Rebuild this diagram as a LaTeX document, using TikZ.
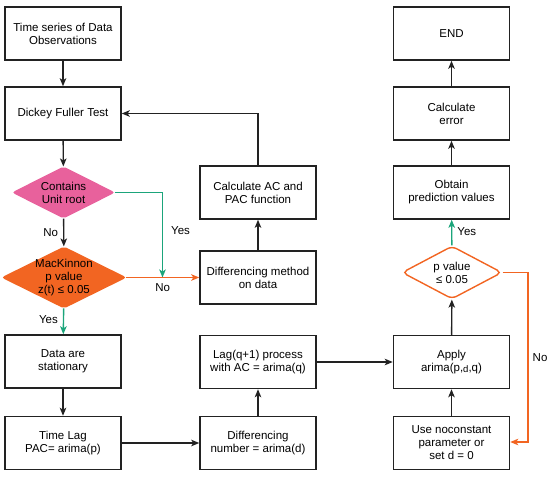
\documentclass[tikz,border=0pt]{standalone}
\usepackage{fontspec}
\setmainfont{Liberation Sans}
\usetikzlibrary{shapes.geometric,arrows.meta}
\definecolor{pinkc}{HTML}{E8619C}
\definecolor{orangec}{HTML}{F26522}
\definecolor{greenc}{HTML}{1BA57B}
\definecolor{linec}{HTML}{222222}
\begin{document}
\begin{tikzpicture}[x=1pt,y=-1pt,
  every node/.style={font=\fontsize{11.5}{13}\selectfont},
  box/.style={draw=linec,line width=1.5pt,fill=white,minimum width=116pt,minimum height=53pt,inner sep=0pt,align=center},
  dia/.style={diamond,draw,line width=1.3pt,inner sep=0pt},
  tip/.style={-{Stealth[length=8pt,width=6.5pt,inset=2pt]}},
  conn/.style={line width=1.4pt,draw=linec,tip},
  gconn/.style={line width=1.4pt,draw=greenc,tip},
  oconn/.style={line width=1.4pt,draw=orangec,tip},
  lbl/.style={inner sep=0pt}
]
\useasboundingbox (0,0) rectangle (550,477);
% left column
\node[box] (ts) at (63,33.5) {Time series of Data\\Observations};
\node[box] (df) at (63,113.5) {Dickey Fuller Test};
\node[dia,fill=pinkc,draw=pinkc,minimum width=101pt,minimum height=51pt,rounded corners=2pt] (cu) at (63.5,192.5) {};
\node[lbl,align=center] (cut) at (cu.center) {Contains\\Unit root};
\node[dia,fill=orangec,draw=orangec,minimum width=123pt,minimum height=61pt,rounded corners=2pt] (mk) at (64,277.5) {};
\node[lbl,align=center] (mkt) at (mk.center) {MacKinnon\\p value\\z(t) ≤ 0.05};
\node[box] (st) at (63,361.5) {Data are\\stationary};
\node[box] (tl) at (63,443) {Time Lag\\PAC= arima(p)};
% middle column
\node[box] (ac) at (258,192.5) {Calculate AC and\\PAC function};
\node[box] (dm) at (258,277.5) {Differencing method\\on data};
\node[box] (lq) at (258,362) {Lag(q+1) process\\with AC = arima(q)};
\node[box] (dn) at (258,443) {Differencing\\number = arima(d)};
% right column
\node[box] (en) at (451.5,33.5) {END};
\node[box] (ce) at (451.5,113.5) {Calculate\\error};
\node[box] (op) at (451.5,192.5) {Obtain\\prediction values};
\node[dia,fill=white,draw=orangec,line width=1.4pt,minimum width=100pt,minimum height=53pt,rounded corners=5pt] (pv) at (452,272.5) {};
\node[lbl,align=center] (pvt) at (pv.center) {p value\\≤ 0.05};
\node[box] (ap) at (451.5,362) {Apply\\arima(p,\raisebox{-1.5pt}{\fontsize{9.5}{10}\selectfont d},q)};
\node[box] (un) at (451.5,443) {Use noconstant\\parameter or\\set d = 0};
% connectors
\draw[conn] (ts) -- (df);
\draw[conn] (df) -- (cu);
\draw[conn] (cu) -- node[lbl,left=5pt,pos=0.5] (no1) {No} (mk);
\coordinate (gy) at (162.5,192.5);
\coordinate (gm) at (162.5,277.5);
\draw[gconn] (cu.east) -- (gy) -- node[lbl,right=8pt,pos=0.45] (yes1) {Yes} (gm);
\draw[oconn] (mk.east) -- node[lbl,below=5pt,pos=0.5] (no2) {No} (dm.west);
\draw[gconn] (mk) -- node[lbl,left=5pt,pos=0.45] (yes2) {Yes} (st);
\draw[conn] (st) -- (tl);
\draw[conn] (tl) -- (dn);
\draw[conn] (dn) -- (lq);
\draw[conn] (lq) -- (ap);
\draw[conn] (dm) -- (ac);
\draw[conn] (ac.north) |- (df.east);
\draw[conn] (un) -- (ap);
\draw[conn] (ap) -- (pv);
\draw[gconn] (pv) -- node[lbl,right=5pt,pos=0.55] (yes3) {Yes} (op);
\draw[conn] (op) -- (ce);
\draw[conn] (ce) -- (en);
\coordinate (o1) at (528,272.5);
\coordinate (o2) at (528,442);
\draw[oconn] (pv.east) -- (o1) -- node[lbl,right=4pt,pos=0.5] (no3) {No} (o2) -- (un.east |- o2);
\end{tikzpicture}
\end{document}
